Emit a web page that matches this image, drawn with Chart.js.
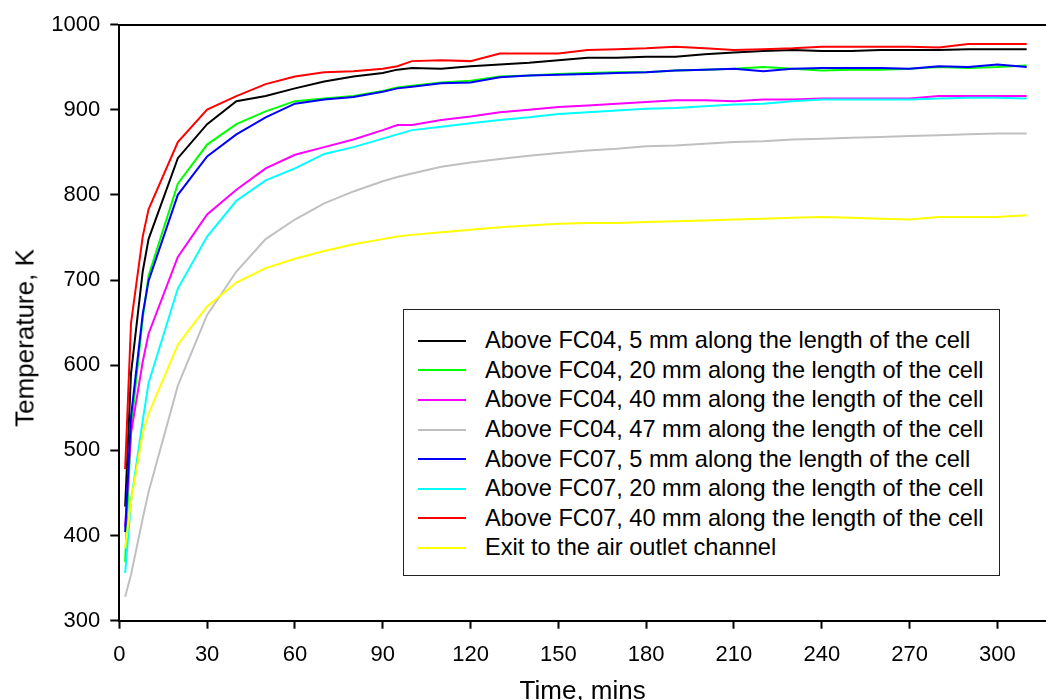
<!DOCTYPE html>
<html lang="en">
<head>
<meta charset="UTF-8" />
<title>Temperature above the cells</title>
<script src="https://cdn.jsdelivr.net/npm/chart.js"></script>
<style>
  html, body { margin: 0; padding: 0; background: #fff; }
  body { width: 1046px; height: 700px; overflow: hidden; font-family: 'Liberation Sans', Arial, sans-serif; }
  .wrap { position: relative; width: 1046px; height: 700px; }
  .y-title {
    position: absolute; left: 25px; top: 338px; font-size: 26px; color: #000; white-space: nowrap;
    transform: translate(-50%, -50%) rotate(-90deg);
  }
  .legend {
    position: absolute; left: 403px; top: 309px; width: 597px; height: 267px;
    box-sizing: border-box; border: 1px solid #222; background: #fff; padding-top: 16px;
  }
  .legend-row { display: flex; align-items: center; height: 29.6px; font-size: 23.6px; color: #000; white-space: nowrap; }
  .legend-row .swatch { width: 48px; height: 2px; margin-left: 14px; margin-right: 19px; }
</style>
</head>
<body>
<div class="wrap">
  <canvas id="tempChart" width="1046" height="700"></canvas>
  <div class="y-title">Temperature, K</div>
  <div class="legend" id="legend"></div>
</div>

<script>
  // sample times, mins
  const times = [2, 4, 8, 10, 20, 30, 40, 50, 60, 70, 80, 90, 95, 100, 110, 120, 130, 140, 150,
                 160, 170, 180, 190, 200, 210, 220, 230, 240, 250, 260, 270, 280, 290, 300, 310];

  // temperatures, K
  const fc04_5mm  = [434, 590, 710, 748, 843, 883, 910, 916, 925, 933, 939, 943, 947, 949, 948, 951, 953, 955, 958,
                     961, 961, 962, 962, 965, 967, 969, 970, 969, 969, 970, 970, 970, 971, 971, 971];
  const fc04_20mm = [369, 525, 655, 705, 813, 859, 883, 898, 910, 913, 916, 922, 926, 928, 932, 934, 939, 940, 942,
                     943, 944, 944, 946, 947, 948, 950, 948, 946, 947, 947, 948, 950, 949, 950, 952];
  const fc04_40mm = [410, 520, 604, 637, 727, 777, 806, 831, 847, 856, 865, 876, 882, 882, 888, 892, 897, 900, 903,
                     905, 907, 909, 911, 911, 910, 912, 912, 913, 913, 913, 913, 916, 916, 916, 916];
  const fc04_47mm = [328, 354, 420, 451, 576, 659, 710, 748, 771, 790, 804, 816, 821, 825, 833, 838, 842, 846, 849,
                     852, 854, 857, 858, 860, 862, 863, 865, 866, 867, 868, 869, 870, 871, 872, 872];
  const fc07_5mm  = [404, 540, 660, 699, 800, 845, 871, 891, 907, 912, 915, 921, 925, 927, 931, 932, 938, 940, 941,
                     942, 943, 944, 946, 947, 948, 945, 948, 949, 949, 949, 948, 951, 950, 953, 950];
  const fc07_20mm = [356, 440, 535, 579, 690, 751, 793, 817, 831, 848, 856, 866, 871, 876, 880, 884, 888, 891, 895,
                     897, 899, 901, 902, 904, 906, 907, 910, 912, 912, 912, 912, 913, 914, 914, 913];
  const fc07_40mm = [478, 649, 751, 783, 862, 900, 916, 930, 939, 944, 945, 948, 951, 957, 958, 957, 966, 966, 966,
                     970, 971, 972, 974, 972, 970, 971, 972, 974, 974, 974, 974, 973, 977, 977, 977];
  const airExit   = [385, 440, 520, 543, 624, 669, 697, 714, 725, 734, 742, 748, 751, 753, 756, 759, 762, 764, 766,
                     767, 767, 768, 769, 770, 771, 772, 773, 774, 773, 772, 771, 774, 774, 774, 776];

  const seriesLabels = [
    'Above FC04, 5 mm along the length of the cell',
    'Above FC04, 20 mm along the length of the cell',
    'Above FC04, 40 mm along the length of the cell',
    'Above FC04, 47 mm along the length of the cell',
    'Above FC07, 5 mm along the length of the cell',
    'Above FC07, 20 mm along the length of the cell',
    'Above FC07, 40 mm along the length of the cell',
    'Exit to the air outlet channel'
  ];
  const seriesValues = [fc04_5mm, fc04_20mm, fc04_40mm, fc04_47mm, fc07_5mm, fc07_20mm, fc07_40mm, airExit];
  const seriesColors = ['#000000', '#00ff00', '#ff00ff', '#c0c0c0', '#0000ff', '#00ffff', '#ff0000', '#ffff00'];

  const xTicks = [0, 30, 60, 90, 120, 150, 180, 210, 240, 270, 300];
  const yTicks = [300, 400, 500, 600, 700, 800, 900, 1000];

  Chart.defaults.font.family = "'Liberation Sans', Arial, sans-serif";
  Chart.defaults.color = '#000';

  const datasets = seriesLabels.map((label, i) => ({
    label: label,
    data: times.map((t, j) => ({ x: t, y: seriesValues[i][j] })),
    borderColor: seriesColors[i],
    borderWidth: 2,
    pointRadius: 0,
    tension: 0,
    fill: false,
    order: seriesLabels.length - i   // later series on top
  }));

  const chart = new Chart(document.getElementById('tempChart'), {
    type: 'line',
    data: { datasets: datasets },
    options: {
      responsive: false,
      animation: false,
      layout: { padding: 0 },
      plugins: { legend: { display: false }, tooltip: { enabled: false } },
      scales: {
        x: {
          type: 'linear', min: 0, max: 316.6,
          afterBuildTicks: s => { s.ticks = xTicks.map(v => ({ value: v })); },
          afterFit: s => { s.height = 79.3; },
          ticks: { font: { size: 22 }, padding: 13, maxRotation: 0, callback: v => String(v) },
          grid: { display: true, drawOnChartArea: false, tickLength: 8, tickWidth: 2, tickColor: '#000' },
          border: { color: '#000', width: 2 },
          title: { display: true, text: 'Time, mins', font: { size: 26, lineHeight: 0.6 }, padding: 0 }
        },
        x2: {
          type: 'linear', position: 'top', min: 0, max: 316.6,
          afterFit: s => { s.height = 24.5; },
          ticks: { display: false },
          grid: { display: false, drawTicks: false },
          border: { display: true, color: '#000', width: 2 }
        },
        y: {
          type: 'linear', min: 300, max: 1000,
          afterBuildTicks: s => { s.ticks = yTicks.map(v => ({ value: v })); },
          afterFit: s => { s.width = 119.3; },
          ticks: { font: { size: 22 }, padding: 10, callback: v => String(v) },
          grid: { display: true, drawOnChartArea: false, tickLength: 9, tickWidth: 2, tickColor: '#000' },
          border: { color: '#000', width: 2 }
        }
      }
    }
  });

  // legend box built from the chart's datasets
  const legendEl = document.getElementById('legend');
  chart.data.datasets.forEach(ds => {
    const row = document.createElement('div');
    row.className = 'legend-row';
    const sw = document.createElement('span');
    sw.className = 'swatch';
    sw.style.background = ds.borderColor;
    const txt = document.createElement('span');
    txt.textContent = ds.label;
    row.appendChild(sw);
    row.appendChild(txt);
    legendEl.appendChild(row);
  });
</script>
</body>
</html>
